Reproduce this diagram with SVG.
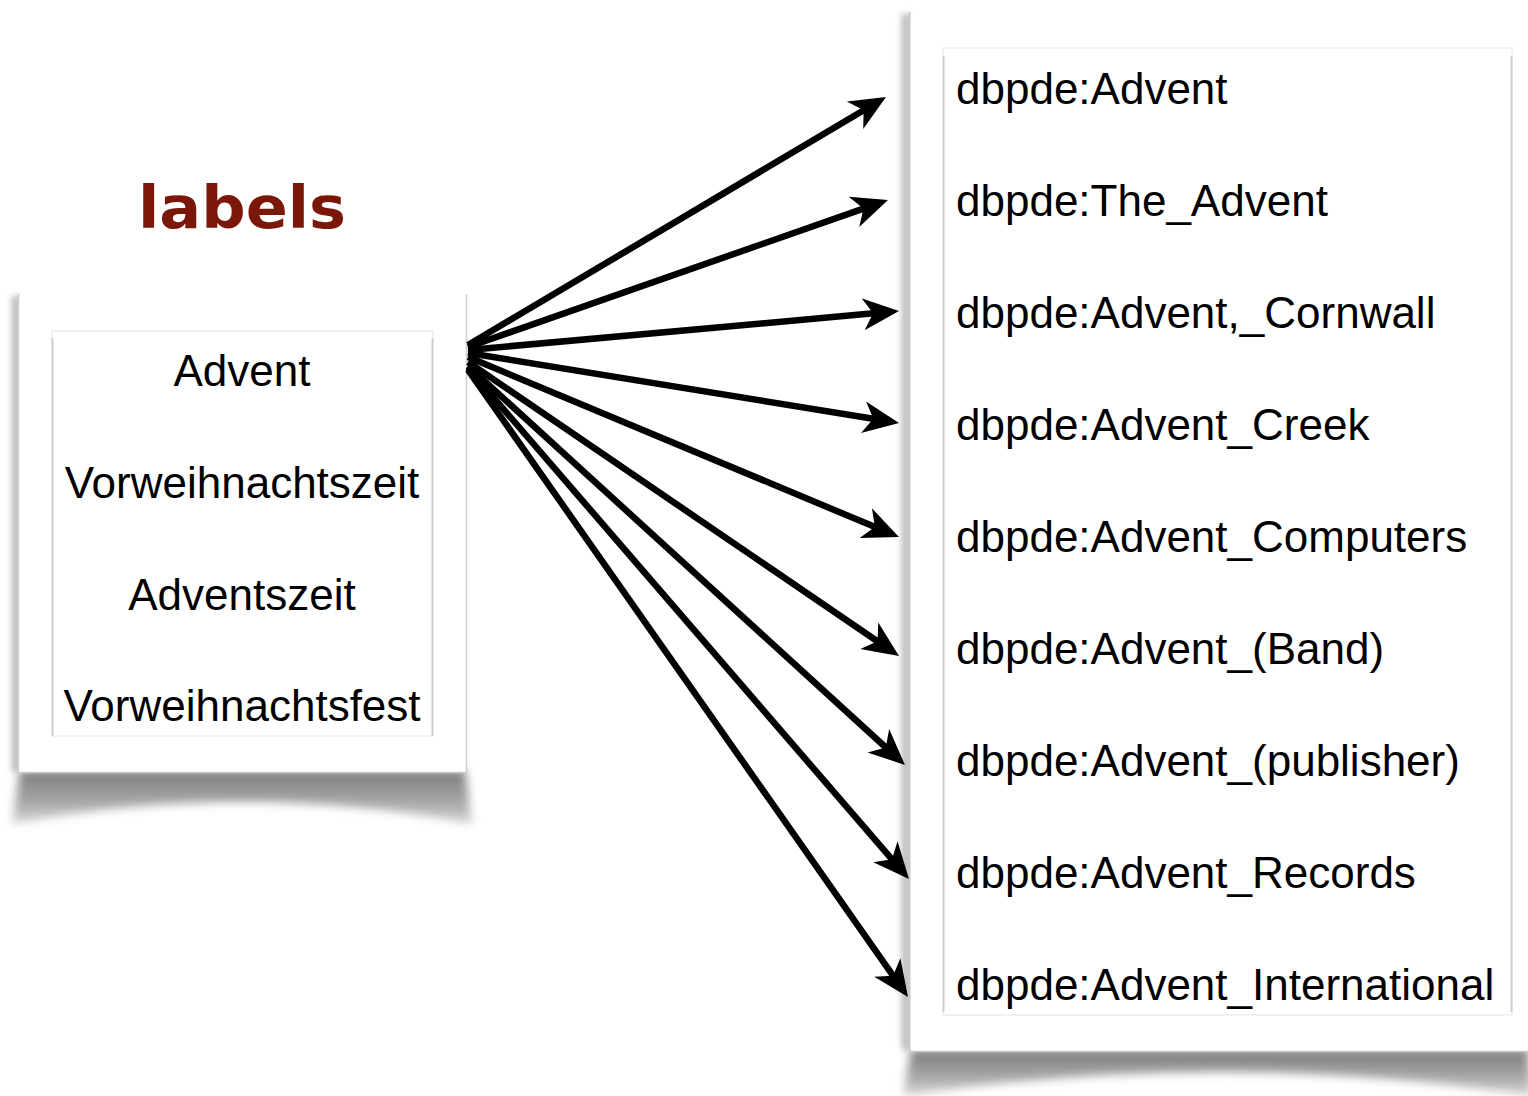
<svg xmlns="http://www.w3.org/2000/svg" width="1528" height="1096" viewBox="0 0 1528 1096">
  <defs>
    <style>
      .item { font-family: "Liberation Sans", "DejaVu Sans", sans-serif; font-size: 44px; fill: #000; }
      .card { fill: #fff; }
      .inner { fill: #fff; stroke: #eeeeee; stroke-width: 1.5; }
      .inner-edge { stroke: #cfcfcf; stroke-width: 2; }
      .conn { stroke: #000; stroke-width: 6.5; fill: none; marker-end: url(#ah); }
      .shadow { filter: url(#blur); }
    </style>
    <linearGradient id="shadeL" x1="0" y1="0" x2="0" y2="1">
      <stop offset="0" stop-color="#7a7a7a"/>
      <stop offset="0.6" stop-color="#a8a8a8"/>
      <stop offset="1" stop-color="#d8d8d8"/>
    </linearGradient>
    <filter id="blur" x="-10%" y="-50%" width="120%" height="200%">
      <feGaussianBlur stdDeviation="5"/>
    </filter>
    <filter id="edgeblur" x="-200%" y="-5%" width="500%" height="110%">
      <feGaussianBlur stdDeviation="3"/>
    </filter>
    <marker id="ah" markerUnits="userSpaceOnUse" markerWidth="38" markerHeight="36" viewBox="0 -18 38 36" refX="16" refY="0" orient="auto">
      <path d="M36,0 L0,-16 L10,0 L0,16 Z" fill="#000"/>
    </marker>
  </defs>

  <rect x="0" y="0" width="1528" height="1096" fill="#fff"/>

  <g id="labels-title">
    <text x="242" y="228" text-anchor="middle" font-family="DejaVu Sans, sans-serif" font-weight="bold" font-size="58" fill="#7b1708" textLength="208" lengthAdjust="spacingAndGlyphs">labels</text>
  </g>

  <g id="labels-card">
    <path class="shadow" fill="url(#shadeL)" d="M20,770 L465,770 L472,824 Q242,780 12,824 Z"/>
    <rect x="12" y="296" width="8" height="476" fill="#b5b5b5" filter="url(#edgeblur)"/>
    <rect class="card" x="18" y="294" width="449" height="479"/>
    <line x1="18.5" y1="294" x2="18.5" y2="773" stroke="#d0d0d0" stroke-width="1.5"/>
    <line x1="466.5" y1="294" x2="466.5" y2="773" stroke="#d0d0d0" stroke-width="1.5"/>
    <line x1="18" y1="772.5" x2="467" y2="772.5" stroke="#c8c8c8" stroke-width="1.5"/>
    <rect class="inner" x="52" y="331" width="381" height="405"/>
    <line class="inner-edge" x1="52.5" y1="338" x2="52.5" y2="736"/>
    <line class="inner-edge" x1="432.5" y1="338" x2="432.5" y2="736" stroke="#e2e2e2"/>
    <text class="item" x="242" y="386" text-anchor="middle">Advent</text>
    <text class="item" x="242" y="498" text-anchor="middle">Vorweihnachtszeit</text>
    <text class="item" x="242" y="610" text-anchor="middle">Adventszeit</text>
    <text class="item" x="242" y="721" text-anchor="middle">Vorweihnachtsfest</text>
  </g>

  <g id="entities-card">
    <path class="shadow" fill="url(#shadeL)" d="M911,1049 L1528,1049 L1532,1096 Q1218,1048 903,1096 Z"/>
    <rect x="902" y="14" width="8" height="1036" fill="#b5b5b5" filter="url(#edgeblur)"/>
    <rect class="card" x="909" y="12" width="619" height="1040"/>
    <line x1="909.5" y1="12" x2="909.5" y2="1052" stroke="#c8c8c8" stroke-width="2"/>
    <line x1="909" y1="1051.5" x2="1528" y2="1051.5" stroke="#c8c8c8" stroke-width="1.5"/>
    <rect class="inner" x="943" y="48" width="569" height="967"/>
    <line class="inner-edge" x1="943.5" y1="56" x2="943.5" y2="1012"/>
    <line class="inner-edge" x1="1511.5" y1="56" x2="1511.5" y2="1012" stroke="#dcdcdc"/>
    <text class="item" x="956" y="104">dbpde:Advent</text>
    <text class="item" x="956" y="216">dbpde:The_Advent</text>
    <text class="item" x="956" y="328">dbpde:Advent,_Cornwall</text>
    <text class="item" x="956" y="440">dbpde:Advent_Creek</text>
    <text class="item" x="956" y="552">dbpde:Advent_Computers</text>
    <text class="item" x="956" y="664">dbpde:Advent_(Band)</text>
    <text class="item" x="956" y="776">dbpde:Advent_(publisher)</text>
    <text class="item" x="956" y="888">dbpde:Advent_Records</text>
    <text class="item" x="956" y="1000">dbpde:Advent_International</text>
  </g>

  <g id="connectors">
    <line class="conn" x1="468" y1="345" x2="868.8" y2="107.2"/>
    <line class="conn" x1="468" y1="347" x2="869.1" y2="206.6"/>
    <line class="conn" x1="468" y1="350" x2="879.1" y2="312.8"/>
    <line class="conn" x1="468" y1="353" x2="879.3" y2="419.8"/>
    <line class="conn" x1="468" y1="357" x2="880.5" y2="529.3"/>
    <line class="conn" x1="468" y1="362" x2="882.5" y2="644.7"/>
    <line class="conn" x1="468" y1="366" x2="890.2" y2="751.5"/>
    <line class="conn" x1="468" y1="368" x2="895.9" y2="863.9"/>
    <line class="conn" x1="468" y1="370" x2="896.5" y2="980.6"/>
  </g>
</svg>
